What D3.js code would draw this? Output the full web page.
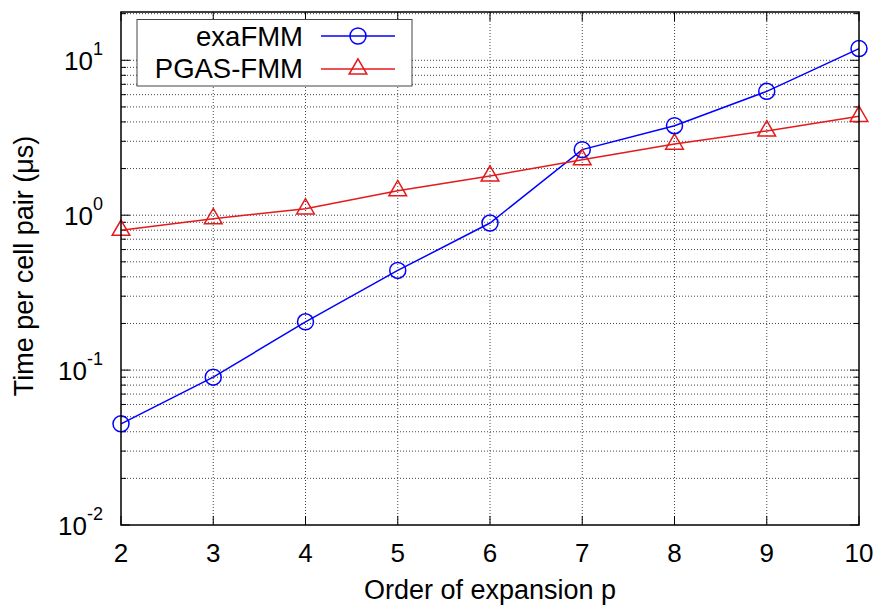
<!DOCTYPE html>
<html><head><meta charset="utf-8">
<script src="https://cdn.jsdelivr.net/npm/d3@7"></script>
<style>body{margin:0;background:#fff}svg{display:block}text{font-family:"Liberation Sans",Arial,sans-serif}</style>
</head><body>
<svg id="c" width="882" height="609"></svg>
<script>
const orders = [2,3,4,5,6,7,8,9,10];
const exaFMM = [0.045,0.090,0.205,0.44,0.89,2.65,3.78,6.3,11.9];
const pgasFMM = [0.80,0.95,1.10,1.44,1.79,2.28,2.88,3.50,4.35];
const xTicks = [2,3,4,5,6,7,8,9,10];
const yMajor = [-2,-1,0,1];
const seriesNames = ["exaFMM","PGAS-FMM"];

const FS = 26, FL = 27;
const svg = d3.select("#c");
const L=121,R=859,T=12,B=525;
const x = d3.scaleLinear().domain([2,10]).range([L,R]);
const y = d3.scaleLog().domain([0.01,20.5]).range([B,T]);

const minors=[];
for(let e=-2;e<=1;e++){for(let m=2;m<=9;m++){const v=m*Math.pow(10,e); if(v<=20.5) minors.push(v);}}

const g = svg.append("g");
g.selectAll(".gy").data(minors.concat(yMajor.slice(1).map(e=>Math.pow(10,e)))).enter().append("line")
 .attr("x1",L).attr("x2",R).attr("y1",d=>y(d)).attr("y2",d=>y(d))
 .attr("stroke","#444").attr("stroke-width",1).attr("stroke-dasharray","1,2");
g.selectAll(".gx").data(xTicks.slice(1,-1)).enter().append("line")
 .attr("x1",d=>x(d)).attr("x2",d=>x(d)).attr("y1",T).attr("y2",B)
 .attr("stroke","#444").attr("stroke-width",1).attr("stroke-dasharray","1,2");

const tk = svg.append("g").attr("stroke","#000").attr("stroke-width",1);
xTicks.forEach(v=>{
  tk.append("line").attr("x1",x(v)).attr("x2",x(v)).attr("y1",B).attr("y2",B-9);
  tk.append("line").attr("x1",x(v)).attr("x2",x(v)).attr("y1",T).attr("y2",T+9);
});
yMajor.forEach(e=>{const v=Math.pow(10,e);
  tk.append("line").attr("x1",L).attr("x2",L+9).attr("y1",y(v)).attr("y2",y(v));
  tk.append("line").attr("x1",R).attr("x2",R-9).attr("y1",y(v)).attr("y2",y(v));
});
minors.forEach(v=>{
  tk.append("line").attr("x1",L).attr("x2",L+5).attr("y1",y(v)).attr("y2",y(v));
  tk.append("line").attr("x1",R).attr("x2",R-5).attr("y1",y(v)).attr("y2",y(v));
});

svg.selectAll(".xl").data(xTicks).enter().append("text")
 .attr("x",d=>x(d)).attr("y",562).attr("text-anchor","middle").attr("font-size",FS).text(d=>d);
yMajor.forEach(e=>{
  const t=svg.append("text").attr("x",103).attr("y",y(Math.pow(10,e))+10).attr("text-anchor","end").attr("font-size",FS);
  t.append("tspan").text("10");
  t.append("tspan").attr("dy",-15).attr("font-size",18).text(e);
});
svg.append("text").attr("x",490).attr("y",599).attr("text-anchor","middle").attr("font-size",FL).text("Order of expansion p");
svg.append("text").attr("transform","translate(33,266) rotate(-90)").attr("text-anchor","middle").attr("font-size",FL).text("Time per cell pair (μs)");

const line = d3.line().x((d,i)=>x(orders[i])).y(d=>y(d));
svg.append("path").datum(exaFMM).attr("d",line).attr("fill","none").attr("stroke","#0000ff").attr("stroke-width",1.5);
svg.append("path").datum(pgasFMM).attr("d",line).attr("fill","none").attr("stroke","#e41a1c").attr("stroke-width",1.5);
const tri = d3.symbol().type(d3.symbolTriangle).size(135);
svg.selectAll(".pt").data(pgasFMM).enter().append("path")
 .attr("transform",(d,i)=>`translate(${x(orders[i])},${y(d)})`).attr("d",tri)
 .attr("fill","none").attr("stroke","#e41a1c").attr("stroke-width",1.5);
svg.selectAll(".ct").data(exaFMM).enter().append("circle")
 .attr("cx",(d,i)=>x(orders[i])).attr("cy",d=>y(d)).attr("r",8)
 .attr("fill","none").attr("stroke","#0000ff").attr("stroke-width",1.5);

svg.append("rect").attr("x",L).attr("y",T).attr("width",R-L).attr("height",B-T).attr("fill","none").attr("stroke","#000").attr("stroke-width",1.5);

const lg = svg.append("g");
lg.append("rect").attr("x",137).attr("y",19.5).attr("width",275).attr("height",66.5).attr("fill","#fff").attr("stroke","#444").attr("stroke-width",1);
lg.append("text").attr("x",303).attr("y",46).attr("text-anchor","end").attr("font-size",27.5).text(seriesNames[0]);
lg.append("text").attr("x",303).attr("y",78).attr("text-anchor","end").attr("font-size",27.5).text(seriesNames[1]);
lg.append("line").attr("x1",321).attr("x2",395).attr("y1",36).attr("y2",36).attr("stroke","#0000ff").attr("stroke-width",1.5);
lg.append("circle").attr("cx",358).attr("cy",36).attr("r",8).attr("fill","none").attr("stroke","#0000ff").attr("stroke-width",1.5);
lg.append("line").attr("x1",321).attr("x2",395).attr("y1",69).attr("y2",69).attr("stroke","#e41a1c").attr("stroke-width",1.5);
lg.append("path").attr("transform","translate(358,69)").attr("d",tri).attr("fill","none").attr("stroke","#e41a1c").attr("stroke-width",1.5);
</script>
</body></html>
